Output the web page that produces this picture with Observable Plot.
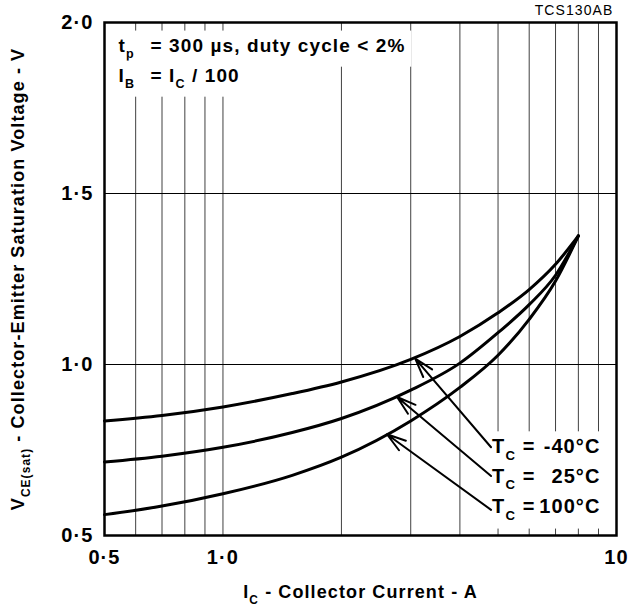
<!DOCTYPE html>
<html><head><meta charset="utf-8">
<script src="https://cdn.jsdelivr.net/npm/d3@7"></script>
<script src="https://cdn.jsdelivr.net/npm/@observablehq/plot@0.6"></script>
<style>body{margin:0;background:#fff}</style>
</head><body><div id="chart"></div>
<script>
// ---- data ----
const currents = [0.5, 0.7, 1, 1.5, 2, 3, 4, 5, 6, 7, 8];
const vMinus40 = [0.835, 0.851, 0.876, 0.915, 0.949, 1.015, 1.082, 1.151, 1.219, 1.293, 1.376];
const v25      = [0.715, 0.732, 0.758, 0.801, 0.842, 0.925, 1.004, 1.093, 1.175, 1.261, 1.376];
const v100     = [0.561, 0.586, 0.622, 0.676, 0.729, 0.835, 0.933, 1.027, 1.132, 1.244, 1.376];
const seriesNames = ["-40°C", "25°C", "100°C"];
const xTicks = [0.5, 1, 10];
const xTickLabels = ["0·5", "1·0", "10"];
const yTicks = [0.5, 1, 1.5, 2];
const yTickLabels = ["0·5", "1·0", "1·5", "2·0"];
const xGrid = [0.6, 0.7, 0.8, 0.9, 1, 2, 3, 4, 5, 6, 7, 8, 9];
const yGrid = [1, 1.5];
// legend label anchors and arrows (data units)
const labelI = 4.8;
const labelV = [0.759, 0.672, 0.584];
const arrowStartV = [0.758, 0.674, 0.575];
const arrowTipI = [3.08, 2.77, 2.61];
const arrowTipV = [1.017, 0.905, 0.796];
const conditions = ["t_{p}", "= 300 µs, duty cycle < 2%", "I_{B}", "= I_{C} / 100"];
const chartId = "TCS130AB";
const xLabel = "I_{C} - Collector Current - A";
const yLabel = "V_{CE(sat)} - Collector-Emitter Saturation Voltage - V";

// ---- build ----
const seriesValues = [vMinus40, v25, v100];
const rows = seriesNames.flatMap((s, k) => currents.map((c, i) => ({series: s, I: c, V: seriesValues[k][i]})));
const labels = seriesNames.map((s, k) => ({name: s, I: labelI, V: labelV[k]}));
const arrows = seriesNames.map((s, k) => ({x1: labelI, y1: arrowStartV[k], x2: arrowTipI[k], y2: arrowTipV[k]}));

const FONT = "'Liberation Sans', Arial, Helvetica, sans-serif";
const bold = {fontWeight: "bold", fill: "#000"};

const chart = Plot.plot({
  width: 640, height: 611,
  marginLeft: 104, marginRight: 24, marginTop: 22, marginBottom: 76,
  style: {fontFamily: FONT, background: "#fff", color: "#000", letterSpacing: "1.1px"},
  x: {type: "log", domain: [0.5, 10], axis: null},
  y: {domain: [0.5, 2]},
  marks: [
    Plot.gridX(xGrid, {stroke: "#000", strokeOpacity: 0.75, strokeWidth: 1}),
    Plot.gridY(yGrid, {stroke: "#000", strokeOpacity: 1, strokeWidth: 1.2}),
    // test conditions (top-left)
    Plot.text([conditions[0]], {text: d => d, frameAnchor: "top-left", textAnchor: "start", lineAnchor: "middle", dx: 14, dy: 23, fontSize: 19, ...bold, className: "mask-a1"}),
    Plot.text([conditions[1]], {text: d => d, frameAnchor: "top-left", textAnchor: "start", lineAnchor: "middle", dx: 46, dy: 23, fontSize: 19, ...bold, className: "mask-a1"}),
    Plot.text([conditions[2]], {text: d => d, frameAnchor: "top-left", textAnchor: "start", lineAnchor: "middle", dx: 14, dy: 53, fontSize: 19, ...bold, className: "mask-a2"}),
    Plot.text([conditions[3]], {text: d => d, frameAnchor: "top-left", textAnchor: "start", lineAnchor: "middle", dx: 46, dy: 53, fontSize: 19, ...bold, className: "mask-a2"}),
    // legend labels
    Plot.text(labels, {x: "I", y: "V", text: () => "T_{C} =", textAnchor: "start", dx: 1, fontSize: 20, ...bold, className: "mask-leg"}),
    Plot.text(labels, {y: "V", text: "name", frameAnchor: "right", textAnchor: "end", dx: -16, fontSize: 20, ...bold, className: "mask-leg"}),
    Plot.frame({stroke: "#000", strokeWidth: 2.5}),
    Plot.line(rows, {x: "I", y: "V", z: "series", stroke: "#000", strokeWidth: 3, curve: "monotone-x"}),
    Plot.arrow(arrows, {x1: "x1", y1: "y1", x2: "x2", y2: "y2", stroke: "#000", strokeWidth: 2, headLength: 15, headAngle: 34}),
    // tick labels
    Plot.text(xTicks, {x: d => d, text: d => xTickLabels[xTicks.indexOf(d)], frameAnchor: "bottom", lineAnchor: "middle", dy: 22, fontSize: 20, ...bold}),
    Plot.axisY(yTicks, {tickFormat: d => yTickLabels[yTicks.indexOf(d)], tickSize: 0, tickPadding: 11, fontSize: 20, fontWeight: "bold", label: null}),
    // axis titles
    Plot.text([xLabel], {text: d => d, frameAnchor: "bottom", lineAnchor: "middle", dy: 57, fontSize: 18, ...bold}),
    Plot.text([yLabel], {text: d => d, frameAnchor: "left", textAnchor: "middle", lineAnchor: "middle", dx: -86, rotate: -90, fontSize: 18, ...bold}),
    Plot.text([chartId], {text: d => d, frameAnchor: "top-right", textAnchor: "end", lineAnchor: "middle", dx: -3, dy: -11.5, fontSize: 14, fill: "#000"})
  ]
});
document.getElementById("chart").appendChild(chart);

// subscripts written as "_{...}"
chart.querySelectorAll("text").forEach(t => {
  if (t.querySelector("tspan")) return;
  const s = t.textContent;
  if (!s.includes("_{")) return;
  const fs = parseFloat(getComputedStyle(t).fontSize) || 16;
  const shift = fs * 0.32;
  t.textContent = "";
  const parts = s.split(/(_\{[^}]*\})/).filter(p => p.length);
  let lowered = false;
  for (const p of parts) {
    const ts = document.createElementNS("http://www.w3.org/2000/svg", "tspan");
    const m = p.match(/^_\{([^}]*)\}$/);
    if (m) {
      ts.textContent = m[1];
      ts.setAttribute("font-size", (fs * 0.66).toFixed(1));
      if (!lowered) ts.setAttribute("dy", shift.toFixed(1));
      lowered = true;
    } else {
      ts.textContent = p;
      if (lowered) ts.setAttribute("dy", (-shift).toFixed(1));
      lowered = false;
    }
    t.appendChild(ts);
  }
});

// white boxes behind text blocks (grid lines are hidden there)
const svgRect = chart.getBoundingClientRect();
["mask-a1", "mask-a2", "mask-leg"].forEach(cls => {
  const groups = chart.querySelectorAll("g." + cls);
  if (!groups.length) return;
  let x0 = Infinity, y0 = Infinity, x1 = -Infinity, y1 = -Infinity;
  groups.forEach(g => g.querySelectorAll("text").forEach(t => {
    const r = t.getBoundingClientRect();
    x0 = Math.min(x0, r.left); y0 = Math.min(y0, r.top);
    x1 = Math.max(x1, r.right); y1 = Math.max(y1, r.bottom);
  }));
  const pad = 6;
  const rect = document.createElementNS("http://www.w3.org/2000/svg", "rect");
  rect.setAttribute("x", x0 - svgRect.left - pad);
  rect.setAttribute("y", y0 - svgRect.top - pad + 2);
  rect.setAttribute("width", x1 - x0 + 2 * pad);
  rect.setAttribute("height", y1 - y0 + 2 * pad - 2);
  rect.setAttribute("fill", "#fff");
  groups[0].parentNode.insertBefore(rect, groups[0]);
});
</script>
</body></html>
